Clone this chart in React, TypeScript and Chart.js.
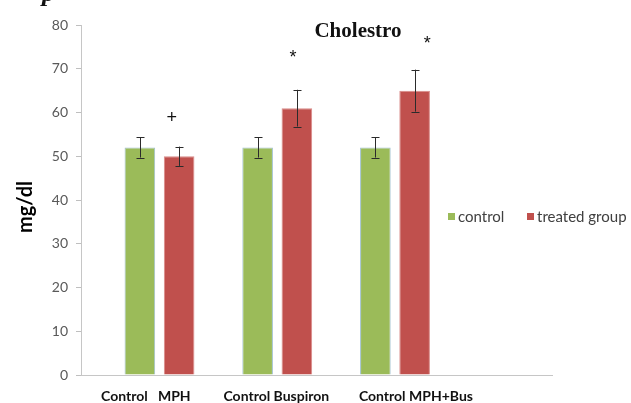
import React, { useEffect, useRef } from "react";
import { Chart, registerables } from "chart.js";

Chart.register(...registerables);

// Group labels and measured cholesterol (mg/dl)
const categories = ["Control   MPH", "Control Buspiron", "Control MPH+Bus", ""];
const controlMeans = [52, 52, 52];
const controlErrors = [2.3, 2.3, 2.3];
const treatedMeans = [50, 61, 65];
const treatedErrors = [2.2, 4.2, 4.8];
const seriesNames = ["control", "treated group"];
const seriesColors = ["#9BBB59", "#C0504D"];
const yMin = 0;
const yMax = 80;
const yStep = 10;

// Group label shifts (in category widths) relative to each group's centre
const labelShift = [-0.33, -0.29, -0.14];

// Significance marks: group, shift in category widths, value
const markText = ["+", "*", "*"];
const markGroup = [0, 1, 2];
const markShift = [0.27, 0.3, 0.44];
const markValue = [59.3, 73.6, 76.8];

const SANS = "Lato, 'Open Sans', sans-serif";
const SERIF = "'Liberation Serif', 'DejaVu Serif', serif";

const decorPlugin = {
  id: "decor",
  afterDatasetsDraw(chart: any) {
    const ctx = chart.ctx;
    const y = chart.scales.y;

    // error bars
    const errs = [controlErrors, treatedErrors];
    const means = [controlMeans, treatedMeans];
    ctx.save();
    ctx.strokeStyle = "#2b2b2b";
    ctx.lineWidth = 1;
    [1, 2].forEach((di, si) => {
      const meta = chart.getDatasetMeta(di);
      meta.data.forEach((bar: any, i: number) => {
        if (i >= means[si].length) return;
        const cx = Math.round(bar.x) + 0.5;
        const top = y.getPixelForValue(means[si][i] + errs[si][i]);
        const bot = y.getPixelForValue(means[si][i] - errs[si][i]);
        ctx.beginPath();
        ctx.moveTo(cx, top);
        ctx.lineTo(cx, bot);
        ctx.moveTo(cx - 4, Math.round(top) + 0.5);
        ctx.lineTo(cx + 4, Math.round(top) + 0.5);
        ctx.moveTo(cx - 4, Math.round(bot) + 0.5);
        ctx.lineTo(cx + 4, Math.round(bot) + 0.5);
        ctx.stroke();
      });
    });
    ctx.restore();
  },
  afterDraw(chart: any) {
    const ctx = chart.ctx;
    const x = chart.scales.x;
    const y = chart.scales.y;
    const catW = x.getPixelForValue(1) - x.getPixelForValue(0);
    ctx.save();

    // significance marks
    ctx.fillStyle = "#111";
    ctx.font = "18px 'Liberation Sans', Arial, sans-serif";
    ctx.textAlign = "center";
    ctx.textBaseline = "alphabetic";
    markText.forEach((t, i) => {
      const m = ctx.measureText(t);
      const px = x.getPixelForValue(markGroup[i]) + markShift[i] * catW;
      const py = y.getPixelForValue(markValue[i]);
      const off = (m.actualBoundingBoxAscent - m.actualBoundingBoxDescent) / 2;
      ctx.fillText(t, px, py + off);
    });

    // group labels below the axis
    ctx.fillStyle = "#111";
    ctx.font = `bold 14px ${SANS}`;
    ctx.textAlign = "left";
    labelShift.forEach((s, i) => {
      const px = x.getPixelForValue(i) + s * catW;
      ctx.fillText(categories[i], px, 401);
    });

    // title
    ctx.font = `bold 21px ${SERIF}`;
    ctx.textAlign = "center";
    ctx.fillText("Cholestro", 358, 37);

    // cropped panel letter at the top-left corner
    ctx.font = `bold italic 26px ${SERIF}`;
    ctx.textAlign = "left";
    ctx.fillText("p", 42, 1);

    // y axis title
    ctx.save();
    ctx.translate(26, 207);
    ctx.rotate(-Math.PI / 2);
    ctx.font = `bold 20px ${SANS}`;
    ctx.textAlign = "center";
    ctx.textBaseline = "middle";
    ctx.fillStyle = "#000";
    ctx.fillText("mg/dl", 0, 0);
    ctx.restore();

    // legend
    ctx.font = `15px ${SANS}`;
    ctx.textBaseline = "middle";
    ctx.textAlign = "left";
    const lx = [448, 527];
    seriesNames.forEach((n, i) => {
      ctx.fillStyle = seriesColors[i];
      ctx.fillRect(lx[i], 213, 7, 7);
      ctx.fillStyle = "#404040";
      ctx.fillText(n, lx[i] + 10, 217);
    });

    ctx.restore();
  },
};

export default function App() {
  const ref = useRef<HTMLCanvasElement | null>(null);

  useEffect(() => {
    document.body.style.margin = "0";
    const canvas = ref.current;
    if (!canvas) return;
    const chart = new Chart(canvas, {
      type: "bar",
      data: {
        labels: categories,
        datasets: [
          { label: "", data: categories.map(() => null) as any, backgroundColor: "rgba(0,0,0,0)" },
          {
            label: seriesNames[0],
            data: controlMeans,
            backgroundColor: seriesColors[0],
            borderColor: "#9fc0cf",
            borderWidth: 1,
          },
          {
            label: seriesNames[1],
            data: treatedMeans,
            backgroundColor: seriesColors[1],
            borderColor: "#d98a88",
            borderWidth: 1,
          },
        ],
      },
      options: {
        responsive: false,
        animation: false,
        devicePixelRatio: 1,
        layout: { padding: { left: 0, top: 25, right: 79, bottom: 0 } },
        datasets: { bar: { categoryPercentage: 1.0, barPercentage: 0.78 } },
        plugins: {
          legend: { display: false },
          tooltip: { enabled: false },
          title: { display: false },
        },
        scales: {
          x: {
            grid: { display: false },
            border: { display: true, color: "#c6c6c6", width: 1 },
            ticks: { display: false },
            afterFit: (s: any) => {
              s.height = 28;
            },
          },
          y: {
            min: yMin,
            max: yMax,
            grid: { drawOnChartArea: false, drawTicks: true, tickLength: 5, color: "#bfbfbf" },
            border: { display: true, color: "#c6c6c6", width: 1 },
            ticks: {
              stepSize: yStep,
              padding: 8,
              color: "#595959",
              font: { family: SANS, size: 14 },
            },
            afterFit: (s: any) => {
              s.width = 81;
            },
          },
        },
      },
      plugins: [decorPlugin],
    });
    return () => chart.destroy();
  }, []);

  return (
    <div style={{ width: 631, height: 403, background: "#fff" }}>
      <canvas ref={ref} width={631} height={403} />
    </div>
  );
}
